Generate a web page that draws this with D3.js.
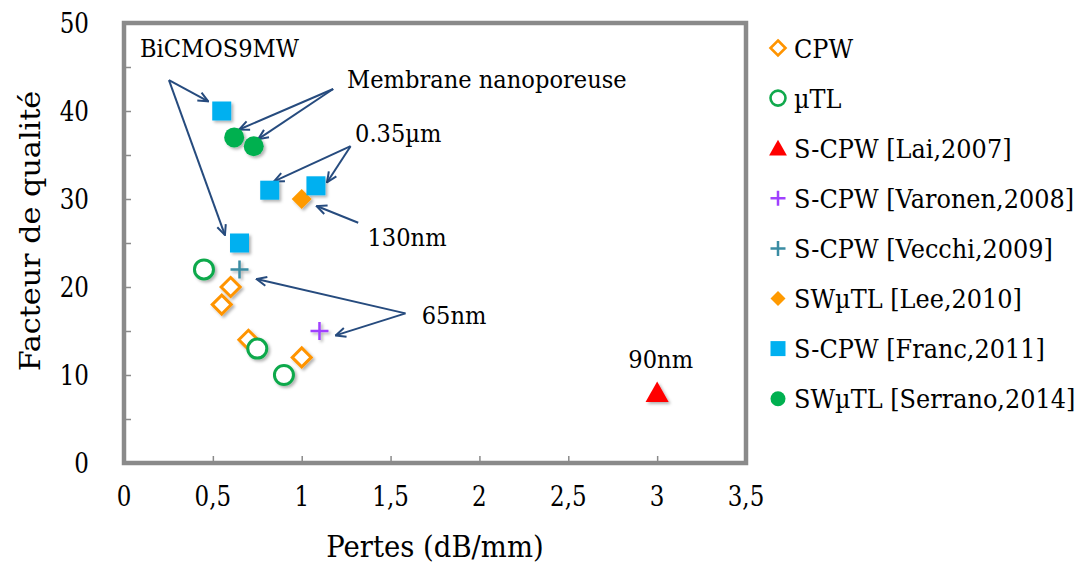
<!DOCTYPE html>
<html><head><meta charset="utf-8">
<script src="https://cdn.jsdelivr.net/npm/d3@7"></script>
<style>
body{margin:0;background:#fff}
svg text{font-family:"DejaVu Serif",serif;fill:#000}
</style>
</head><body>
<svg id="chart" width="1088" height="567"></svg>
<script>
// ---- data ----
const xTicks = [0, 0.5, 1, 1.5, 2, 2.5, 3, 3.5];
const xTickLabels = ["0", "0,5", "1", "1,5", "2", "2,5", "3", "3,5"];
const yTicks = [0, 10, 20, 30, 40, 50];
const yTickLabels = ["0", "10", "20", "30", "40", "50"];
const yMinorTicks = [5, 15, 25, 35, 45];

const seriesNames = ["CPW", "µTL", "S-CPW [Lai,2007]", "S-CPW [Varonen,2008]",
  "S-CPW [Vecchi,2009]", "SWµTL [Lee,2010]", "S-CPW [Franc,2011]", "SWµTL [Serrano,2014]"];

const cpwX = [0.60, 0.55, 0.70, 1.00];
const cpwY = [20, 18, 14, 12];
const mutlX = [0.45, 0.75, 0.90];
const mutlY = [22, 13, 10];
const laiX = [3.0];
const laiY = [8];
const varonenX = [1.10];
const varonenY = [15];
const vecchiX = [0.65];
const vecchiY = [22];
const leeX = [1.00];
const leeY = [30];
const francX = [0.55, 0.82, 1.08, 0.65];
const francY = [40, 31, 31.5, 25];
const serranoX = [0.62, 0.73];
const serranoY = [37, 36];

// annotations (data units)
const annoTexts = ["BiCMOS9MW", "Membrane nanoporeuse", "0.35µm", "130nm", "65nm", "90nm"];
const annoX = [0.09, 1.255, 1.30, 1.37, 1.675, 3.02];
const annoY = [46.1, 42.6, 36.5, 24.7, 15.8, 10.8];
const arrowFromX = [0.253, 0.253, 1.177, 1.177, 1.275, 1.275, 1.318, 1.584, 1.584];
const arrowFromY = [43.5, 43.5, 42.5, 42.5, 36.0, 36.0, 27.3, 17.0, 17.0];
const arrowToX = [0.474, 0.568, 0.648, 0.755, 0.844, 1.143, 1.084, 0.746, 1.191];
const arrowToY = [41.1, 25.9, 37.9, 36.8, 32.0, 31.9, 29.2, 20.9, 14.5];

// ---- layout ----
const svg = d3.select("#chart");
const x = d3.scaleLinear().domain([0, 3.5]).range([124, 746]);
const y = d3.scaleLinear().domain([0, 50]).range([463, 23]);
const K = 1.1; // vertical text stretch

const defs = svg.append("defs");
const f = defs.append("filter").attr("id", "sh").attr("x", "-50%").attr("y", "-50%").attr("width", "200%").attr("height", "200%");
f.append("feDropShadow").attr("dx", 2).attr("dy", 2).attr("stdDeviation", 1.6)
  .attr("flood-color", "#000").attr("flood-opacity", 0.3);
defs.append("marker").attr("id", "arr").attr("viewBox", "0 0 12 12")
  .attr("refX", 11).attr("refY", 6).attr("markerWidth", 12).attr("markerHeight", 12)
  .attr("markerUnits", "userSpaceOnUse").attr("orient", "auto")
  .append("path").attr("d", "M1,1.5 L11,6 L1,10.5").attr("fill", "none")
  .attr("stroke", "#264b7e").attr("stroke-width", 2);

function txt(g, px, py, s, size, k, anchor) {
  return g.append("text").attr("transform", `translate(${px},${py}) scale(1,${k})`)
    .attr("font-size", size).attr("text-anchor", anchor || "start").text(s);
}

// axes (ticks inside)
const gray = "#8a8a8a";
const xAxis = d3.axisBottom(x).tickValues(xTicks.slice(1, -1)).tickSize(-7).tickFormat("");
svg.append("g").attr("transform", `translate(0,${y(0)})`).call(xAxis)
  .call(g => { g.select(".domain").remove(); g.selectAll("line").attr("stroke", gray).attr("stroke-width", 1.5); });
const yAxis = d3.axisLeft(y).tickValues(yTicks.slice(1, -1).concat(yMinorTicks)).tickSize(-7).tickFormat("");
svg.append("g").attr("transform", `translate(${x(0)},0)`).call(yAxis)
  .call(g => { g.select(".domain").remove(); g.selectAll("line").attr("stroke", gray).attr("stroke-width", 1.5); });

// frame
svg.append("rect").attr("x", x(0)).attr("y", y(50)).attr("width", x(3.5) - x(0)).attr("height", y(0) - y(50))
  .attr("fill", "none").attr("stroke", gray).attr("stroke-width", 4.5);

// tick labels
const gx = svg.append("g");
xTicks.forEach((d, i) => txt(gx, x(d), y(0) + 43, xTickLabels[i], 23, 1.22, "middle"));
const gy = svg.append("g");
yTicks.forEach((d, i) => txt(gy, x(0) - 35, y(d) + 10, yTickLabels[i], 23, 1.22, "end"));

// axis titles
txt(svg, (x(0) + x(3.5)) / 2, 557, "Pertes (dB/mm)", 27.5, K, "middle");
svg.append("text").attr("transform", `translate(40,231) scale(1,${K}) rotate(-90)`)
  .attr("text-anchor", "middle").attr("font-size", 27.5).text("Facteur de qualité");

// arrows
svg.append("g").selectAll("line").data(arrowFromX).join("line")
  .attr("x1", (d, i) => x(arrowFromX[i])).attr("y1", (d, i) => y(arrowFromY[i]))
  .attr("x2", (d, i) => x(arrowToX[i])).attr("y2", (d, i) => y(arrowToY[i]))
  .attr("stroke", "#264b7e").attr("stroke-width", 2).attr("marker-end", "url(#arr)");

// annotation text
const ga = svg.append("g");
annoTexts.forEach((s, i) => txt(ga, x(annoX[i]), y(annoY[i]), s, 22.6, K, i === 5 ? "middle" : "start"));

// marker shapes
function shape(type, s) {
  const h = s / 2;
  switch (type) {
    case "diamond": return `M0,${-h}L${h},0L0,${h}L${-h},0Z`;
    case "square": return `M${-h},${-h}H${h}V${h}H${-h}Z`;
    case "circle": return d3.symbol(d3.symbolCircle, Math.PI * h * h)();
    case "triangle": return `M0,${-h}L${h * 1.05},${h * 0.85}L${-h * 1.05},${h * 0.85}Z`;
    case "plus": return `M${-h},0H${h}M0,${-h}V${h}`;
  }
}
const series = [
  {xs: cpwX, ys: cpwY, type: "diamond", size: 19, fill: "#fff", stroke: "#ff9400", sw: 3},
  {xs: mutlX, ys: mutlY, type: "circle", size: 19, fill: "#fff", stroke: "#10a94c", sw: 3},
  {xs: laiX, ys: laiY, type: "triangle", size: 22, fill: "#ff0000", stroke: "none", sw: 0},
  {xs: varonenX, ys: varonenY, type: "plus", size: 18, fill: "none", stroke: "#a040ff", sw: 2.5},
  {xs: vecchiX, ys: vecchiY, type: "plus", size: 18, fill: "none", stroke: "#3a8ca3", sw: 2.5},
  {xs: leeX, ys: leeY, type: "diamond", size: 20, fill: "#ff9a00", stroke: "none", sw: 0},
  {xs: francX, ys: francY, type: "square", size: 19, fill: "#00b0f0", stroke: "none", sw: 0},
  {xs: serranoX, ys: serranoY, type: "circle", size: 20, fill: "#00b050", stroke: "none", sw: 0}
];
const plot = svg.append("g").attr("filter", "url(#sh)");
series.forEach(s => {
  plot.append("g").selectAll("path").data(s.xs).join("path")
    .attr("transform", (d, i) => `translate(${x(d)},${y(s.ys[i])})`)
    .attr("d", shape(s.type, s.size))
    .attr("fill", s.fill).attr("stroke", s.stroke).attr("stroke-width", s.sw);
});

// legend
const leg = svg.append("g");
seriesNames.forEach((name, i) => {
  const s = series[i];
  const yy = 48 + i * 50.1;
  leg.append("path").attr("transform", `translate(778,${yy})`)
    .attr("d", shape(s.type, s.type === "triangle" ? 17 : 15))
    .attr("fill", s.fill).attr("stroke", s.stroke).attr("stroke-width", s.sw === 3 ? 2.6 : s.sw);
  txt(leg, 794, yy + 9.5, name, 24, K, "start");
});
</script>
</body></html>
